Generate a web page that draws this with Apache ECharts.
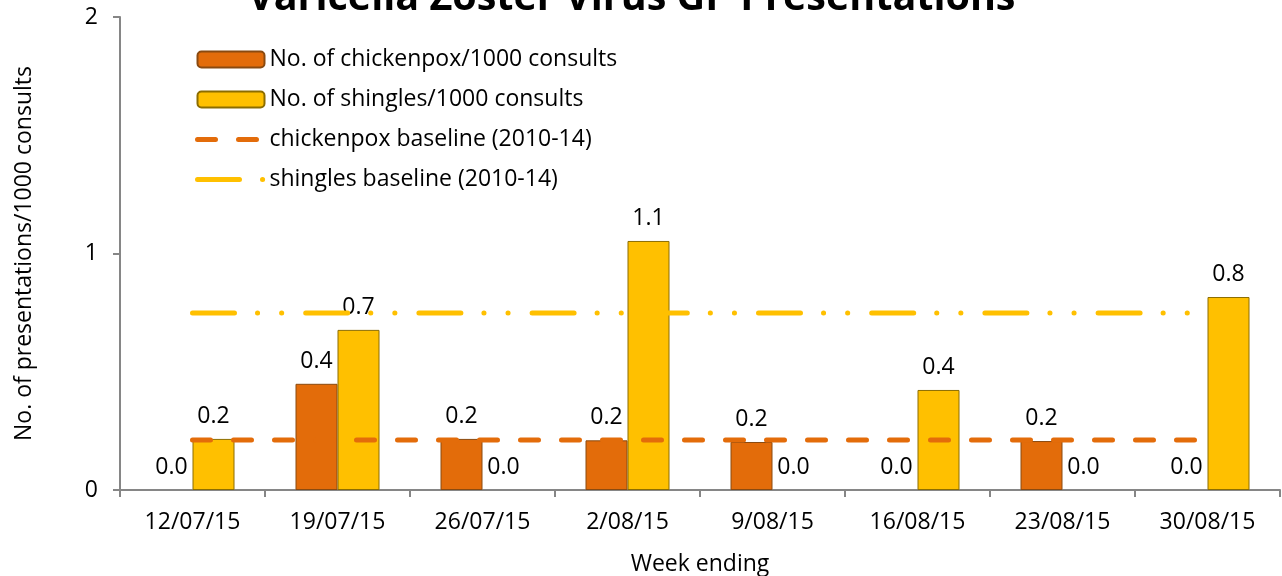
<!DOCTYPE html>
<html>
<head>
<meta charset="utf-8">
<script src="https://cdn.jsdelivr.net/npm/echarts@6/dist/echarts.min.js"></script>
<style>
  html, body { margin: 0; padding: 0; background: #fff; }
  #chart { width: 1282px; height: 576px; }
</style>
</head>
<body>
<div id="chart"></div>
<script>
const weeks = ['12/07/15', '19/07/15', '26/07/15', '2/08/15', '9/08/15', '16/08/15', '23/08/15', '30/08/15']
const chickenpox = [0.0, 0.449, 0.216, 0.21, 0.203, 0.0, 0.207, 0.0]
const shingles = [0.216, 0.677, 0.0, 1.053, 0.0, 0.423, 0.0, 0.816]
const chickenpoxBaseline = [0.211, 0.211, 0.211, 0.211, 0.211, 0.211, 0.211, 0.211]
const shinglesBaseline = [0.748, 0.748, 0.748, 0.748, 0.748, 0.748, 0.748, 0.748]
const yTicks = [0, 1, 2]

const font = 'Open Sans'
const fs = 23
const orange = '#E36C0A'
const yellow = '#FFC000'

const chart = echarts.init(document.getElementById('chart'))

const barLabel = {
  show: true,
  position: 'top',
  distance: 11,
  color: '#000',
  fontSize: fs,
  fontFamily: font,
  formatter: (p) => Number(p.value).toFixed(1),
}

// zero-height bars should not leave a border stub on the axis
function toBarData(list) {
  return list.map((v) => (v === 0 ? { value: v, itemStyle: { borderWidth: 0 } } : v))
}

const lineLegend = (name) => ({
  name,
  itemStyle: { opacity: 0 },
  lineStyle: { width: 5, cap: 'round' },
})

chart.setOption({
  animation: false,
  textStyle: { fontFamily: font },
  title: {
    text: 'Varicella Zoster Virus GP Presentations',
    left: 243,
    top: -26,
    textStyle: { fontSize: 39.5, fontWeight: 'bold', color: '#000', fontFamily: font },
  },
  legend: {
    orient: 'vertical',
    left: 190,
    top: 43,
    itemWidth: 67,
    itemHeight: 16,
    itemGap: 17,
    textStyle: { fontSize: fs, color: '#000', fontFamily: font, lineHeight: 20 },
    data: [
      'No. of chickenpox/1000 consults',
      'No. of shingles/1000 consults',
      lineLegend('chickenpox baseline (2010-14)'),
      lineLegend('shingles baseline (2010-14)'),
    ],
  },
  grid: { left: 120, right: 2, top: 17, bottom: 86, outerBoundsMode: 'none' },
  xAxis: {
    type: 'category',
    data: weeks,
    name: 'Week ending',
    nameLocation: 'middle',
    nameGap: 63,
    nameTextStyle: { fontSize: fs, color: '#000', fontFamily: font },
    axisLine: { lineStyle: { color: '#868686', width: 2 } },
    axisTick: { show: true, length: 7, lineStyle: { color: '#868686', width: 2 } },
    axisLabel: { fontSize: fs, color: '#000', margin: 21, fontFamily: font },
  },
  yAxis: {
    type: 'value',
    min: yTicks[0],
    max: yTicks[yTicks.length - 1],
    interval: 1,
    name: 'No. of presentations/1000 consults',
    nameLocation: 'middle',
    nameGap: 84,
    nameRotate: 90,
    nameTextStyle: { fontSize: fs, color: '#000', fontFamily: font },
    splitLine: { show: false },
    axisLine: { show: true, lineStyle: { color: '#868686', width: 2 } },
    axisTick: { show: true, length: 7, lineStyle: { color: '#868686', width: 2 } },
    axisLabel: { fontSize: fs, color: '#000', margin: 22, fontFamily: font },
  },
  series: [
    {
      name: 'No. of chickenpox/1000 consults',
      type: 'bar',
      data: toBarData(chickenpox),
      barWidth: 42,
      barGap: '0%',
      itemStyle: { color: orange, borderColor: '#8a4a10', borderWidth: 1 },
      label: barLabel,
    },
    {
      name: 'No. of shingles/1000 consults',
      type: 'bar',
      data: toBarData(shingles),
      barWidth: 42,
      itemStyle: { color: yellow, borderColor: '#8c6d00', borderWidth: 1 },
      label: barLabel,
    },
    {
      name: 'chickenpox baseline (2010-14)',
      type: 'line',
      data: chickenpoxBaseline,
      symbol: 'none',
      z: 5,
      itemStyle: { color: orange },
      lineStyle: { color: orange, width: 5, cap: 'round', type: [18, 23] },
    },
    {
      name: 'shingles baseline (2010-14)',
      type: 'line',
      data: shinglesBaseline,
      symbol: 'none',
      z: 5,
      itemStyle: { color: yellow },
      lineStyle: { color: yellow, width: 5, cap: 'round', type: [42, 23, 0.1, 24, 0.1, 24] },
    },
  ],
})
</script>
</body>
</html>
